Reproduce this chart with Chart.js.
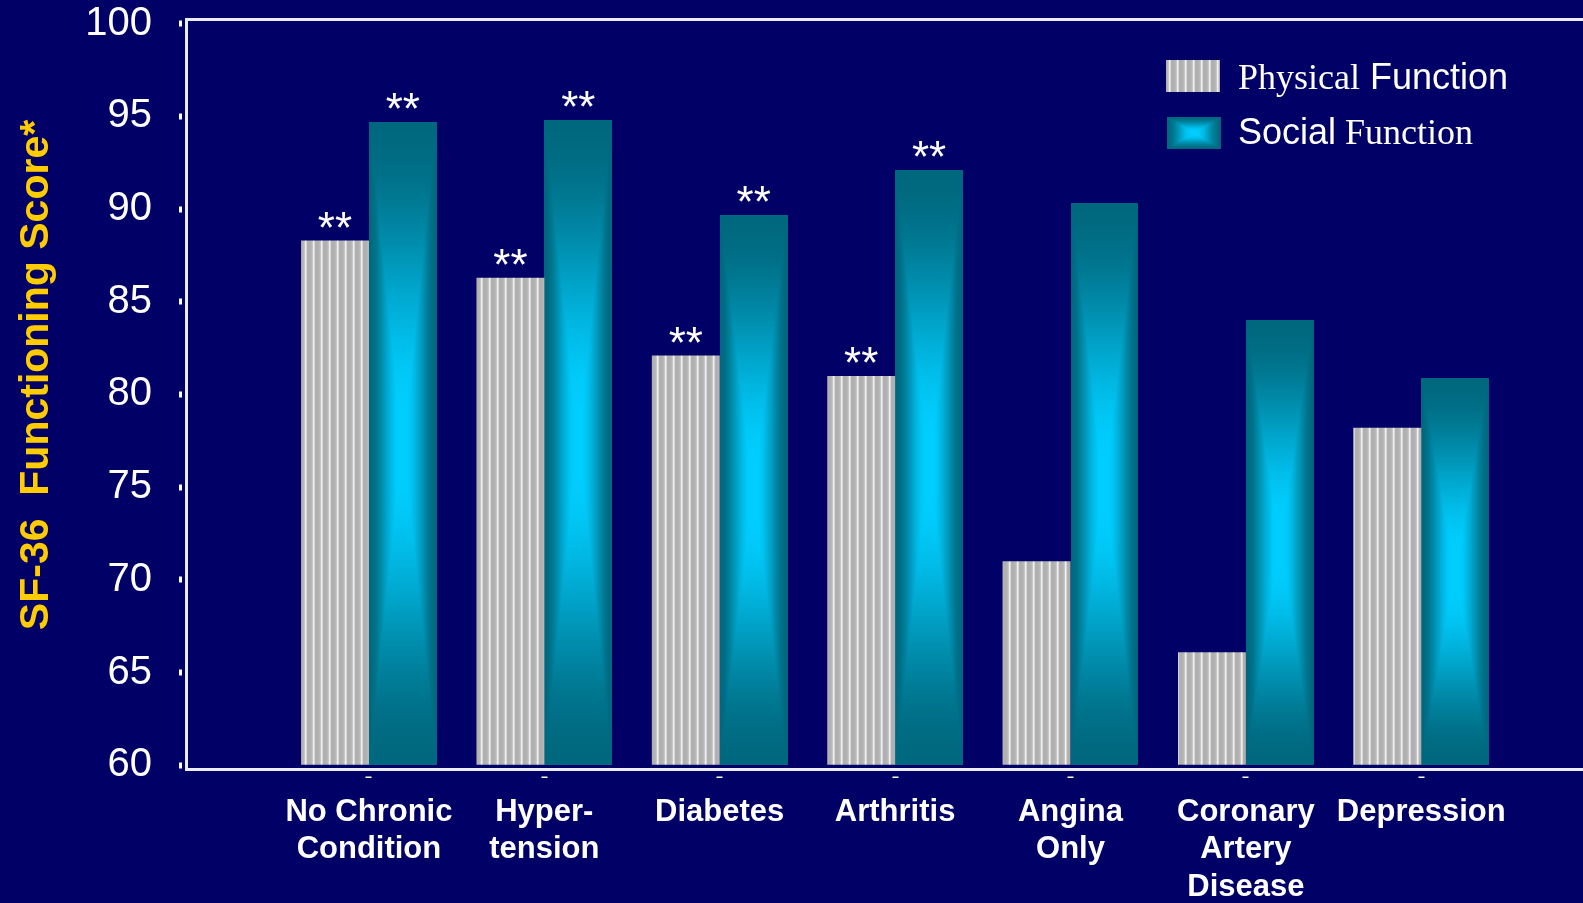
<!DOCTYPE html>
<html>
<head>
<meta charset="utf-8">
<script src="https://cdn.jsdelivr.net/npm/chart.js@4/dist/chart.umd.min.js"></script>
<style>
  html, body { margin: 0; padding: 0; background: #000066; overflow: hidden; }
  #wrap { width: 1583px; height: 903px; }
</style>
</head>
<body>
<div id="wrap"><canvas id="c" width="1583" height="903"></canvas></div>
<script>
// ---- data ----
const categories = [
  ['No Chronic', 'Condition'],
  ['Hyper-', 'tension'],
  ['Diabetes'],
  ['Arthritis'],
  ['Angina', 'Only'],
  ['Coronary', 'Artery', 'Disease'],
  ['Depression']
];
const physicalFunction = [88.3, 86.3, 82.1, 81.0, 71.0, 66.1, 78.2];
const socialFunction   = [94.7, 94.8, 89.7, 92.1, 90.3, 84.0, 80.9];
const physicalMarks = ['**', '**', '**', '**', '', '', ''];
const socialMarks   = ['**', '**', '**', '**', '', '', ''];
const yTicks = [60, 65, 70, 75, 80, 85, 90, 95, 100];
const seriesNames = ['Physical Function', 'Social Function'];
// legend text runs: [text, face]
const legendRuns = [
  [['Physical', 'serif'], [' Function', 'sans']],
  [['Social', 'sans'], [' Function', 'serif']]
];
const yTitle = 'SF-36  Functioning Score*';

// ---- styling ----
const SANS = '"Liberation Sans", Arial, sans-serif';
const SERIF = '"Liberation Serif", "Times New Roman", serif';
const AXIS = '#ececf8';

const canvas = document.getElementById('c');
const ctx0 = canvas.getContext('2d');

// vertical pinstripe fill for the physical bars
function stripePattern(ctx) {
  const c = document.createElement('canvas');
  c.width = 8; c.height = 4;
  const g = c.getContext('2d');
  const cols = ['#c6c6c6', '#f0f0f0', '#d6d6d6', '#b2b2b2', '#b0b0b0', '#b0b0b0', '#b3b3b3', '#b8b8b8'];
  cols.forEach((col, i) => { g.fillStyle = col; g.fillRect(i, 0, 1, 4); });
  return ctx.createPattern(c, 'repeat');
}
const stripes = stripePattern(ctx0);

// rectangular "from centre" glow used for the social bars
function glowCanvas(w, h) {
  w = Math.max(1, Math.round(w)); h = Math.max(1, Math.round(h));
  const c = document.createElement('canvas');
  c.width = w; c.height = h;
  const g = c.getContext('2d');
  const img = g.createImageData(w, h);
  const hw = w / 2, hh = h / 2;
  for (let y = 0; y < h; y++) {
    for (let x = 0; x < w; x++) {
      const u = Math.abs(x + 0.5 - hw) / hw;
      const v = Math.abs(y + 0.5 - hh) / hh;
      const r = Math.min(1, Math.max(0, (Math.max(u, v) - 0.08) / 0.92));
      const t = r * r * (3 - 2 * r);
      const k = (y * w + x) * 4;
      img.data[k] = 0;
      img.data[k + 1] = Math.round(206 + (104 - 206) * t);
      img.data[k + 2] = Math.round(255 + (126 - 255) * t);
      img.data[k + 3] = 255;
    }
  }
  g.putImageData(img, 0, 0);
  return c;
}

const glowBars = {
  id: 'glowBars',
  beforeDatasetDraw(chart, args) {
    if (args.index !== 1) return;
    const ctx = chart.ctx;
    args.meta.data.forEach(el => {
      const p = el.getProps(['x', 'y', 'base', 'width'], true);
      const left = p.x - p.width / 2;
      const top = Math.min(p.y, p.base);
      const h = Math.abs(p.base - p.y);
      ctx.drawImage(glowCanvas(p.width, h), left, top, p.width, h);
    });
    return false;
  }
};

const sigMarks = {
  id: 'sigMarks',
  afterDatasetsDraw(chart) {
    const ctx = chart.ctx;
    ctx.save();
    ctx.font = '44px ' + SANS;
    ctx.fillStyle = '#ffffff';
    ctx.textAlign = 'center';
    ctx.textBaseline = 'alphabetic';
    [physicalMarks, socialMarks].forEach((arr, d) => {
      chart.getDatasetMeta(d).data.forEach((el, i) => {
        if (arr[i]) ctx.fillText(arr[i], el.x, el.y + 2);
      });
    });
    ctx.restore();
  }
};

const sideLegend = {
  id: 'sideLegend',
  afterDraw(chart) {
    const ctx = chart.ctx;
    ctx.save();
    legendRuns.forEach((runs, i) => {
      const sx = 1166, sy = 60 + 57 * i, sw = 54, sh = 32;
      if (i === 0) {
        ctx.fillStyle = chart.data.datasets[0].backgroundColor;
        ctx.fillRect(sx, sy, sw, sh);
      } else {
        ctx.drawImage(glowCanvas(sw, sh), sx + 1, sy);
      }
      let x = 1238;
      const base = 89 + 55 * i;
      ctx.fillStyle = '#ffffff';
      ctx.textBaseline = 'alphabetic';
      ctx.textAlign = 'left';
      runs.forEach(([txt, face]) => {
        ctx.font = '36px ' + (face === 'serif' ? SERIF : SANS);
        ctx.fillText(txt, x, base);
        x += ctx.measureText(txt).width;
      });
    });
    ctx.restore();
  }
};

const axisTitle = {
  id: 'axisTitle',
  afterDraw(chart) {
    const ctx = chart.ctx;
    ctx.save();
    ctx.translate(48, 375);
    ctx.rotate(-Math.PI / 2);
    ctx.font = 'bold 41px ' + SANS;
    ctx.fillStyle = '#ffcc00';
    ctx.textAlign = 'center';
    ctx.textBaseline = 'alphabetic';
    ctx.fillText(yTitle, 0, 0);
    ctx.restore();
  }
};

new Chart(canvas, {
  type: 'bar',
  data: {
    datasets: [
      {
        label: seriesNames[0],
        data: physicalFunction.map((v, i) => ({ x: i, y: v })),
        backgroundColor: stripes,
        borderWidth: 0,
        base: yTicks[0],
        categoryPercentage: 0.774,
        barPercentage: 1
      },
      {
        label: seriesNames[1],
        data: socialFunction.map((v, i) => ({ x: i, y: v })),
        backgroundColor: '#00a0cc',
        borderWidth: 0,
        base: yTicks[0],
        categoryPercentage: 0.774,
        barPercentage: 1
      }
    ]
  },
  options: {
    responsive: false,
    animation: false,
    events: [],
    layout: { padding: { top: 19, left: 0, right: 0, bottom: 0 } },
    plugins: { legend: { display: false }, tooltip: { enabled: false } },
    scales: {
      x: {
        type: 'linear',
        position: 'bottom',
        offset: false,
        min: -1.043,
        max: 6.922,
        afterBuildTicks: s => { s.ticks = categories.map((_, i) => ({ value: i })); },
        afterFit: s => { s.height = 134; s.paddingLeft = 0; s.paddingRight = 0; },
        ticks: {
          color: '#ffffff',
          font: { family: SANS, size: 31, weight: 'bold', lineHeight: 1.2 },
          padding: 16,
          maxRotation: 0,
          autoSkip: false,
          callback: v => categories[v] || ''
        },
        grid: {
          offset: false,
          drawOnChartArea: false,
          drawTicks: true,
          tickLength: 9,
          tickWidth: 6,
          tickColor: '#ffffff',
          tickBorderDash: [2, 20],
          tickBorderDashOffset: 16.5
        },
        border: { display: true, color: AXIS, width: 3 }
      },
      frame: {
        type: 'linear',
        axis: 'x',
        position: 'top',
        offset: false,
        min: 0,
        max: 1,
        ticks: { display: false },
        grid: { display: true, offset: false, drawOnChartArea: false, drawTicks: false },
        border: { display: true, color: AXIS, width: 3 },
        afterFit: s => { s.height = 0; s.paddingLeft = 0; s.paddingRight = 0; }
      },
      y: {
        type: 'linear',
        min: 59.8,
        max: 100.25,
        afterBuildTicks: s => { s.ticks = yTicks.map(v => ({ value: v })); },
        afterFit: s => { s.width = 186; s.paddingTop = 0; s.paddingBottom = 0; },
        ticks: {
          color: '#ffffff',
          font: { family: SANS, size: 40 },
          padding: 27
        },
        grid: {
          drawOnChartArea: false,
          drawTicks: true,
          tickLength: 7,
          tickWidth: 6,
          tickColor: '#ffffff',
          tickBorderDash: [3, 20]
        },
        border: { display: true, color: AXIS, width: 3 }
      }
    }
  },
  plugins: [glowBars, sigMarks, sideLegend, axisTitle]
});
</script>
</body>
</html>
